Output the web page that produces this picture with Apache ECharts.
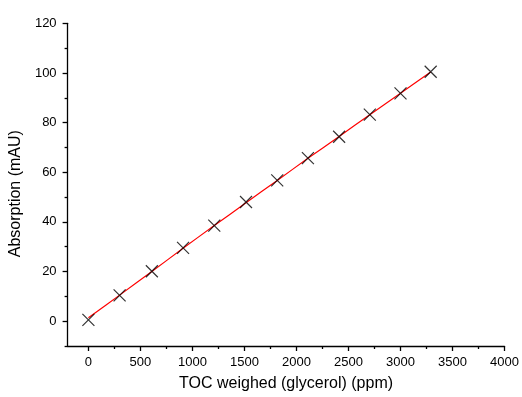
<!DOCTYPE html>
<html>
<head>
<meta charset="utf-8">
<script src="https://cdn.jsdelivr.net/npm/echarts@6/dist/echarts.min.js"></script>
<style>
  html, body { margin: 0; padding: 0; background: #fff; }
  #chart { width: 522px; height: 397px; }
</style>
</head>
<body>
<div id="chart"></div>
<script>
// Calibration: TOC (glycerol, ppm) vs. absorption (mAU)
const tocPpm = [0, 300, 610, 910, 1210, 1515, 1815, 2110, 2410, 2705, 3000, 3290];
const absorption = [0.5, 10.4, 20.1, 29.5, 38.5, 48.0, 56.7, 65.7, 74.3, 83.2, 91.8, 100.5];
// Fitted calibration curve evaluated at the same concentrations
const fitAbsorption = [1.4, 10.5, 20.0, 29.4, 38.5, 47.7, 56.7, 65.6, 74.4, 83.2, 91.8, 100.4];

const xMajorTicks = [0, 500, 1000, 1500, 2000, 2500, 3000, 3500, 4000];
const xMinorTicks = [250, 750, 1250, 1750, 2250, 2750, 3250, 3750];
const yMajorTicks = [0, 20, 40, 60, 80, 100, 120];
const yMinorTicks = [-10, 10, 30, 50, 70, 90, 110];

const font = 'Liberation Sans, Arial, sans-serif';
const chart = echarts.init(document.getElementById('chart'), null, { renderer: 'canvas' });

const xRange = { min: -200, max: 4000 };
const yRange = { min: -10, max: 120 };
const plain = v => String(v);

chart.setOption({
  animation: false,
  backgroundColor: '#ffffff',
  grid: { left: 66.7, right: 16, top: 23.3, bottom: 50.3, containLabel: false },
  xAxis: [
    {
      type: 'value', ...xRange,
      name: 'TOC weighed (glycerol) (ppm)',
      nameLocation: 'middle', nameGap: 30,
      nameTextStyle: { fontFamily: font, fontSize: 16, color: '#000' },
      axisLine: { show: true, onZero: false, lineStyle: { color: '#000', width: 1.3 } },
      axisTick: { show: true, inside: false, length: 5, customValues: xMajorTicks, lineStyle: { color: '#000', width: 1.3 } },
      axisLabel: { show: true, margin: 10, customValues: xMajorTicks, formatter: plain, fontFamily: font, fontSize: 13, color: '#000' },
      splitLine: { show: false }
    },
    {
      type: 'value', ...xRange, position: 'bottom',
      axisLine: { show: false, onZero: false },
      axisTick: { show: true, inside: false, length: 3, customValues: xMinorTicks, lineStyle: { color: '#000', width: 1.3 } },
      axisLabel: { show: false },
      splitLine: { show: false }
    }
  ],
  yAxis: [
    {
      type: 'value', ...yRange,
      name: 'Absorption (mAU)',
      nameLocation: 'middle', nameGap: 34,
      nameTextStyle: { fontFamily: font, fontSize: 16, color: '#000', padding: [0, 18, 0, 0] },
      axisLine: { show: true, onZero: false, lineStyle: { color: '#000', width: 1.3 } },
      axisTick: { show: true, inside: false, length: 5, customValues: yMajorTicks, lineStyle: { color: '#000', width: 1.3 } },
      axisLabel: { show: true, margin: 11, customValues: yMajorTicks, formatter: plain, fontFamily: font, fontSize: 13, color: '#000' },
      splitLine: { show: false }
    },
    {
      type: 'value', ...yRange, position: 'left',
      axisLine: { show: false, onZero: false },
      axisTick: { show: true, inside: false, length: 3, customValues: yMinorTicks, lineStyle: { color: '#000', width: 1.3 } },
      axisLabel: { show: false },
      splitLine: { show: false }
    }
  ],
  series: [
    {
      name: 'Fit',
      type: 'line',
      xAxisIndex: 0, yAxisIndex: 0,
      data: tocPpm.map((x, i) => [x, fitAbsorption[i]]),
      showSymbol: false,
      smooth: 0.3,
      lineStyle: { color: '#ff0000', width: 1.2 },
      z: 2
    },
    {
      name: 'Measured',
      type: 'scatter',
      xAxisIndex: 0, yAxisIndex: 0,
      data: tocPpm.map((x, i) => [x, absorption[i]]),
      symbol: 'path://M0,0L10,10M10,0L0,10',
      symbolSize: 12,
      itemStyle: { color: 'transparent', borderColor: '#000', borderWidth: 1.2 },
      z: 3
    }
  ]
});
</script>
</body>
</html>
